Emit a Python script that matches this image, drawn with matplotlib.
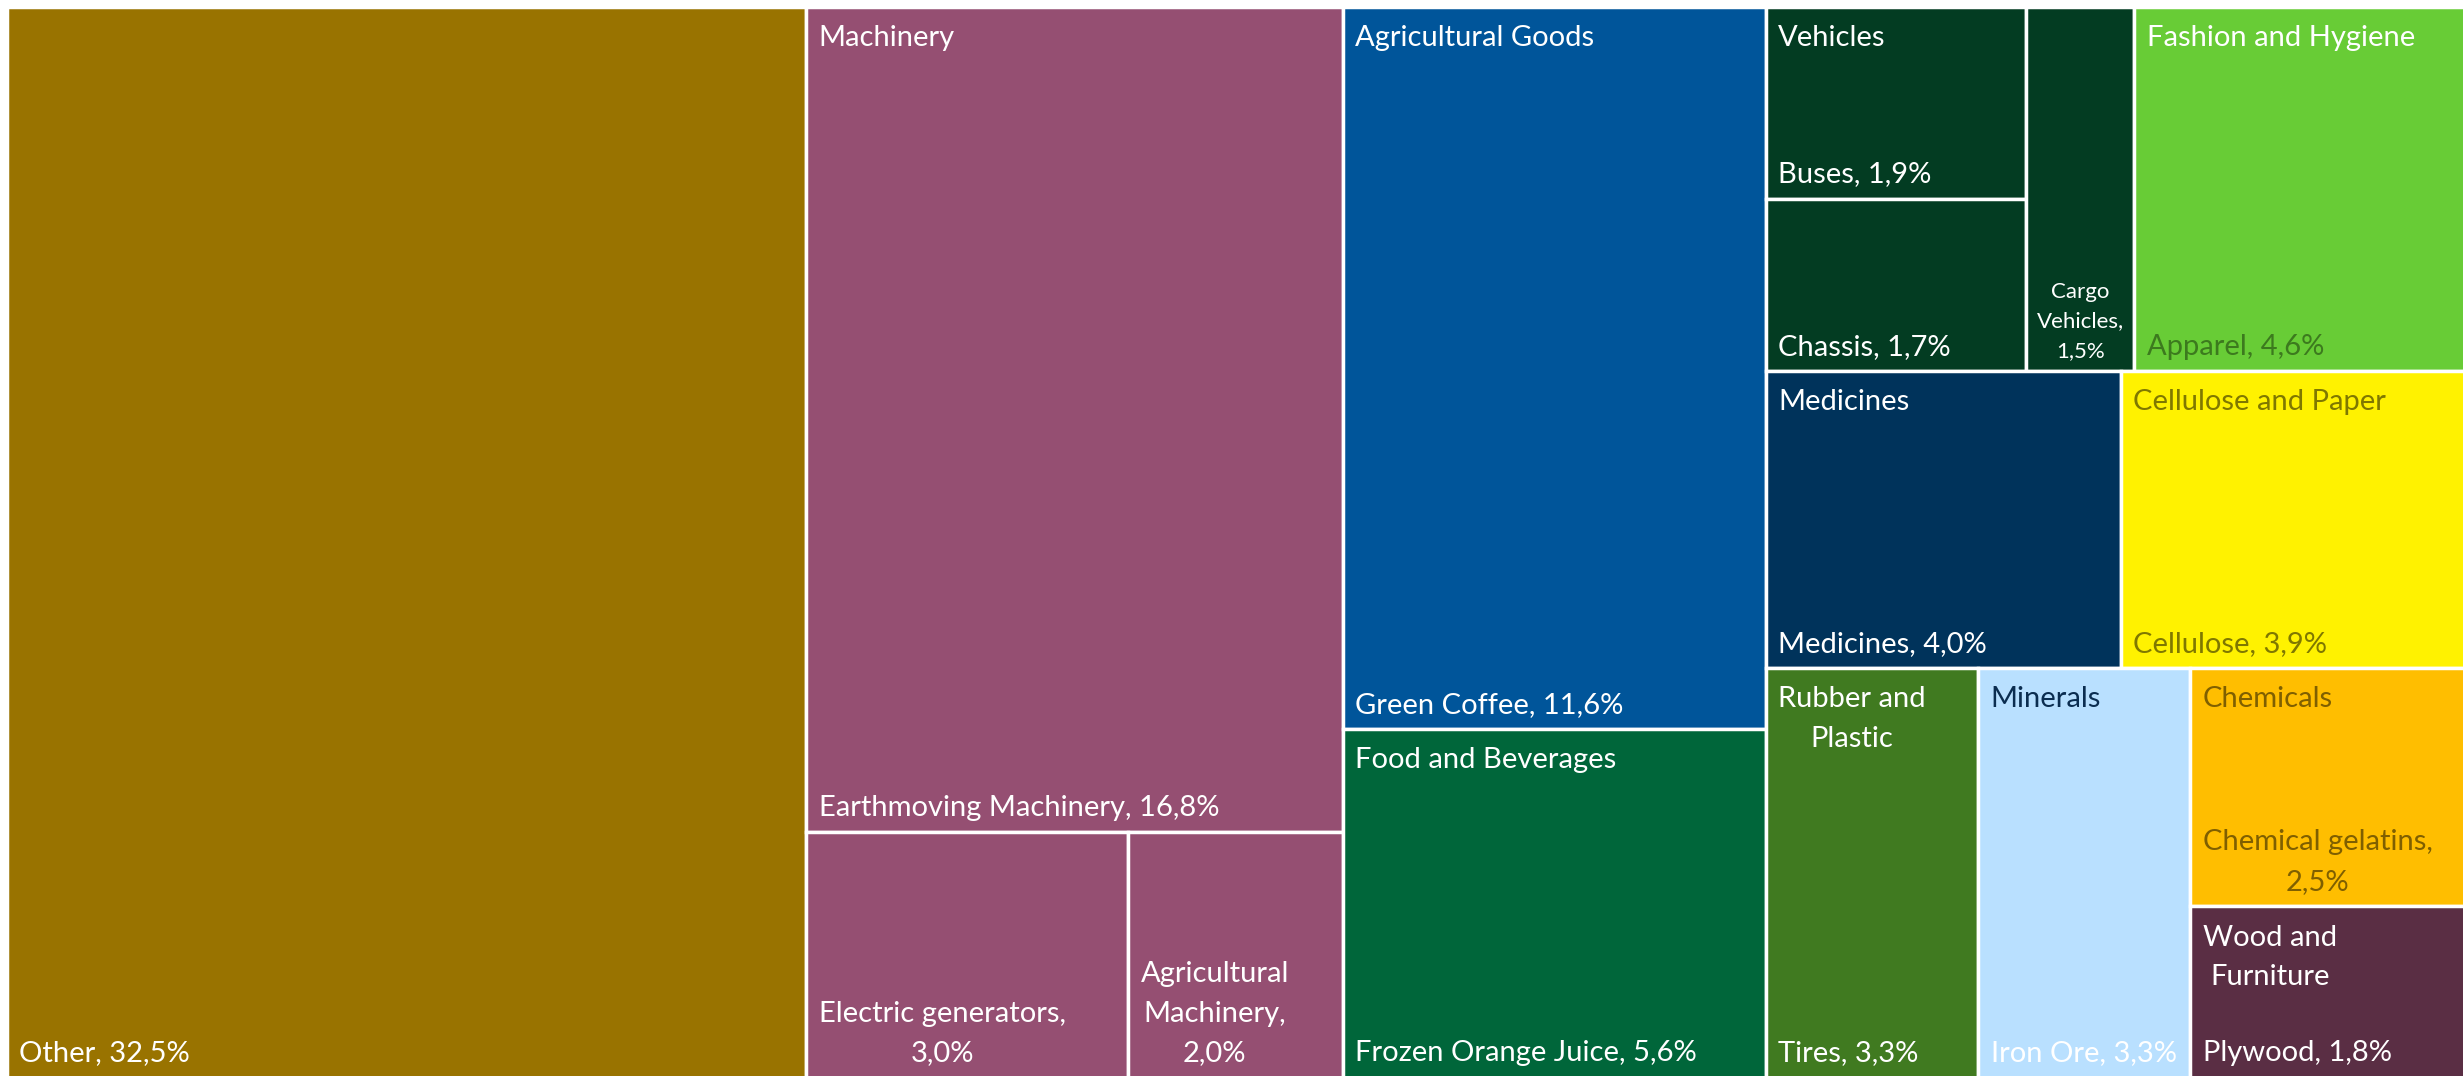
"""Export composition treemap (matplotlib only)."""

import matplotlib

matplotlib.use("Agg")
import matplotlib.pyplot as plt
from matplotlib.patches import Rectangle

plt.rcParams["font.family"] = ["Lato", "DejaVu Sans"]

# leaves: share of total exports (%)
leaf_names = [
    "Other",
    "Earthmoving Machinery",
    "Electric generators",
    "Agricultural\nMachinery",
    "Green Coffee",
    "Frozen Orange Juice",
    "Buses",
    "Chassis",
    "Cargo\nVehicles",
    "Apparel",
    "Medicines",
    "Cellulose",
    "Tires",
    "Iron Ore",
    "Chemical gelatins",
    "Plywood",
]
leaf_values = [32.5, 16.8, 3.0, 2.0, 11.6, 5.6, 1.9, 1.7, 1.5, 4.6, 4.0, 3.9, 3.3, 3.3, 2.5, 1.8]
leaf_group = [0, 1, 1, 1, 2, 3, 4, 4, 4, 5, 6, 7, 8, 9, 10, 11]
leaf_wrap = [False, False, True, True, False, False, False, False, True,
             False, False, False, False, False, True, False]

group_names = [
    None,
    "Machinery",
    "Agricultural Goods",
    "Food and Beverages",
    "Vehicles",
    "Fashion and Hygiene",
    "Medicines",
    "Cellulose and Paper",
    "Rubber and\nPlastic",
    "Minerals",
    "Chemicals",
    "Wood and\nFurniture",
]
group_colors = ["#997300", "#954F72", "#00559A", "#00663A", "#033C22", "#68CC36",
                "#00335B", "#FFF200", "#407A20", "#B9E0FF", "#FFBE00", "#5A2E44"]
header_colors = ["white", "white", "white", "white", "white", "white",
                 "white", "#7F7800", "white", "#0B2D50", "#7F5F00", "white"]
leaf_colors = ["white", "white", "white", "white", "white", "white",
               "white", "#7F7800", "white", "white", "#7F5F00", "white"]
apparel_color = "#3C7A1E"

# slice-and-dice nesting: "h" splits left->right, "v" top->bottom; ints are leaf indices
layout = ("h", [
    0,
    ("v", [1, ("h", [2, 3])]),
    ("v", [4, 5]),
    ("v", [
        ("h", [("h", [("v", [6, 7]), 8]), 9]),
        ("h", [10, 11]),
        ("h", [12, 13, ("v", [14, 15])]),
    ]),
])


def _total(node):
    if isinstance(node, int):
        return leaf_values[node]
    return sum(_total(k) for k in node[1])


def _place(node, x, y, w, h, out):
    if isinstance(node, int):
        out[node] = (x, y, w, h)
        return
    d, kids = node
    s = _total(node)
    for k in kids:
        f = _total(k) / s
        if d == "h":
            _place(k, x, y, w * f, h, out)
            x += w * f
        else:
            _place(k, x, y, w, h * f, out)
            y += h * f


W, H = 2463, 1076
fig = plt.figure(figsize=(W / 100, H / 100), dpi=100)
ax = fig.add_axes([6.5 / W, -2 / H, (W + 4 - 6.5) / W, (H + 2 - 6.5) / H])
ax.set_xlim(0, 1)
ax.set_ylim(1, 0)
ax.axis("off")

rects = {}
_place(layout, 0, 0, 1, 1, rects)

FS = 21
PAD = 9.0
LS = 1.65
for i, (x, y, w, h) in rects.items():
    g = leaf_group[i]
    ax.add_patch(Rectangle((x, y), w, h, facecolor=group_colors[g],
                           edgecolor="white", linewidth=2.5))
    pct = f"{leaf_values[i]:.1f}%".replace(".", ",")
    text = leaf_names[i] + (",\n" if leaf_wrap[i] else ", ") + pct
    color = apparel_color if leaf_names[i] == "Apparel" else leaf_colors[g]
    if leaf_names[i] == "Cargo\nVehicles":
        ax.annotate(text, (x + w / 2, y + h), xytext=(0, 7.5), textcoords="offset points",
                    ha="center", va="bottom", multialignment="center",
                    fontsize=16, color=color, linespacing=1.6)
    else:
        ax.annotate(text, (x, y + h), xytext=(PAD, 8.3), textcoords="offset points",
                    ha="left", va="bottom", multialignment="center",
                    fontsize=FS, color=color, linespacing=LS)

# group headers in the top-left corner of each group
for g, name in enumerate(group_names):
    if name is None:
        continue
    boxes = [rects[i] for i in rects if leaf_group[i] == g]
    gx = min(b[0] for b in boxes)
    gy = min(b[1] for b in boxes)
    ax.annotate(name, (gx, gy), xytext=(PAD, -13.0), textcoords="offset points",
                ha="left", va="top", multialignment="center",
                fontsize=FS, color=header_colors[g], linespacing=LS)

fig.savefig("out.png", dpi=100, facecolor="white")
plt.close(fig)
